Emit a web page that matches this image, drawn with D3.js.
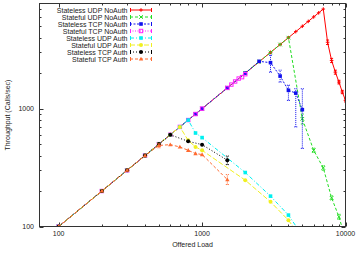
<!DOCTYPE html>
<html><head><meta charset="utf-8">
<script src="https://cdn.jsdelivr.net/npm/d3@7"></script>
<style>body{margin:0;background:#fff}svg{display:block}text{font-family:"Liberation Sans",Arial,sans-serif}</style>
</head><body>
<svg id="c" width="357" height="254"></svg>
<script>
// ---- data ----
const seriesNames = ["Stateless UDP NoAuth","Stateful UDP NoAuth","Stateless TCP NoAuth","Stateful TCP NoAuth","Stateless UDP Auth","Stateful UDP Auth","Stateless TCP Auth","Stateful TCP Auth"];
const seriesColors = ["#ff0000","#22dd22","#1010ee","#ff22ff","#00f0f0","#f0f020","#000000","#ff6a30"];
const seriesDash = ["none","3,2","2,1.5","1,1.5","4,2,1,2","5,2","1,2","3,2"];
const seriesMarker = ["plus","cross","fsquare","osquare","fsquare","fcircle","fcircle","ftri"];

const redLoad = [100,200,300,400,500,600,700,800,900,1000,1500,2000,2500,3000,3500,4000,4500,5000,5500,6000,6500,7000,7500,8000,8500,9000,9500,10000];
const redThr  = [100,200,300,400,500,600,700,800,900,1000,1500,2000,2500,3000,3500,4000,4500,5000,5500,6000,6500,7000,3660,2565,2040,1680,1383,1175];
const redLo   = [null,null,null,null,null,null,null,null,null,null,null,null,null,null,null,null,null,null,null,null,null,null,3500,2460,1960,1620,1340,1140];
const redHi   = [null,null,null,null,null,null,null,null,null,null,null,null,null,null,null,null,null,null,null,null,null,null,3820,2670,2120,1740,1430,1210];

const greenLoad = [100,200,300,400,500,600,700,800,900,1000,1500,2000,2500,3000,3500,4000,5000,6000,7000,8000,9000,10000];
const greenThr  = [100,200,300,400,500,600,700,800,900,1000,1500,2000,2500,3000,3500,4000,820,443,314,175,121,78];
const greenLo   = [null,null,null,null,null,null,null,null,null,null,null,null,null,null,null,null,740,425,300,168,115,null];
const greenHi   = [null,null,null,null,null,null,null,null,null,null,null,null,null,null,null,null,900,462,328,182,127,null];

const blueLoad = [100,200,300,400,500,600,700,800,900,1000,1500,2000,2500,3000,3500,4000,4500,5000];
const blueThr  = [100,200,300,400,500,600,700,800,900,1000,1500,2000,2520,2455,1890,1430,1355,980];
const blueLo   = [null,null,null,null,null,null,null,null,null,null,null,null,null,2040,1680,1175,700,460];
const blueHi   = [null,null,null,null,null,null,null,null,null,null,null,null,null,2840,2120,1580,1475,1475];

const magLoad = [100,200,300,400,500,600,700,800,900,1000,1500,1600,1700,1800,1900,2000];
const magThr  = [100,200,300,400,500,600,700,800,900,1000,1500,1600,1700,1800,1850,1960];

const cyanLoad = [100,200,300,400,500,600,700,800,900,1000,2000,3000,4000,5000];
const cyanThr  = [100,200,300,400,500,600,700,800,621,568,287,181,125,84];

const yelLoad = [100,200,300,400,500,600,700,800,900,1000,2000,3000,4000,5000];
const yelThr  = [100,200,300,400,500,600,700,538,473,443,247,162,113,78];

const blackLoad = [100,200,300,400,500,600,800,1000,1500];
const blackThr  = [100,200,300,400,500,600,528,495,365];
const blackLo   = [null,null,null,null,null,null,null,null,335];
const blackHi   = [null,null,null,null,null,null,null,null,396];

const orangeLoad = [100,200,300,400,500,600,700,800,900,1000,1500];
const orangeThr  = [100,200,300,400,487,495,473,443,416,408,250];
const orangeLo   = [null,null,null,null,465,null,null,null,null,null,227];
const orangeHi   = [null,null,null,null,505,null,null,null,null,null,276];

const xMajorTicks = [100,1000,10000];
const yMajorTicks = [100,1000];
const xLabel = "Offered Load";
const yLabel = "Throughput (Calls/sec)";

// ---- build ----
function mk(load,thr,lo,hi){return load.map((l,i)=>({x:l,y:thr[i],lo:lo?lo[i]:null,hi:hi?hi[i]:null}));}
const series = [
  mk(redLoad,redThr,redLo,redHi),
  mk(greenLoad,greenThr,greenLo,greenHi),
  mk(blueLoad,blueThr,blueLo,blueHi),
  mk(magLoad,magThr),
  mk(cyanLoad,cyanThr),
  mk(yelLoad,yelThr),
  mk(blackLoad,blackThr,blackLo,blackHi),
  mk(orangeLoad,orangeThr,orangeLo,orangeHi)
];

const L=39.5,R=345.5,T=3.5,B=226.5;
const x = d3.scaleLog().domain([73.5,10000]).range([L,R]);
const y = d3.scaleLog().domain([100,7800]).range([B,T]);
const svg = d3.select("#c");

svg.append("defs").append("clipPath").attr("id","clip")
  .append("rect").attr("x",L).attr("y",T).attr("width",R-L).attr("height",B-T);

// ticks
const axisCol="#333";
const tg = svg.append("g").attr("stroke",axisCol).attr("stroke-width",1);
const xTicks = x.ticks().filter(v=>v>=x.domain()[0]&&v<=10000&&v>=100);
xTicks.forEach(v=>{
  const major = xMajorTicks.includes(v);
  const len = major?4:2;
  const px = Math.round(x(v))+0.5;
  tg.append("line").attr("x1",px).attr("x2",px).attr("y1",B).attr("y2",B-len);
  tg.append("line").attr("x1",px).attr("x2",px).attr("y1",T).attr("y2",T+len);
});
const yTicks = y.ticks().filter(v=>v>=100&&v<=7800);
yTicks.forEach(v=>{
  const major = yMajorTicks.includes(v);
  const len = major?4:2;
  const py = Math.round(y(v))+0.5;
  tg.append("line").attr("y1",py).attr("y2",py).attr("x1",L).attr("x2",L+len);
  tg.append("line").attr("y1",py).attr("y2",py).attr("x1",R).attr("x2",R-len);
});

// tick labels
const lab = svg.append("g").attr("font-size",7).attr("fill","#222");
xMajorTicks.forEach(v=>{
  lab.append("text").attr("x",x(v)).attr("y",236).attr("text-anchor","middle").text(v);
});
yMajorTicks.forEach(v=>{
  lab.append("text").attr("x",34).attr("y",y(v)+2.5).attr("text-anchor","end").text(v);
});
lab.append("text").attr("x",(L+R)/2).attr("y",247).attr("text-anchor","middle").text(xLabel);
lab.append("text").attr("transform",`translate(10,${(T+B)/2}) rotate(-90)`).attr("text-anchor","middle").text(yLabel);

// marker drawing
function marker(g,type,cx,cy,col){
  const s=1.8;
  if(type==="plus"){
    g.append("path").attr("d",`M${cx-s},${cy}H${cx+s}M${cx},${cy-s}V${cy+s}`).attr("stroke",col).attr("stroke-width",1).attr("fill","none");
  } else if(type==="cross"){
    g.append("path").attr("d",`M${cx-s},${cy-s}L${cx+s},${cy+s}M${cx-s},${cy+s}L${cx+s},${cy-s}`).attr("stroke",col).attr("stroke-width",1).attr("fill","none");
  } else if(type==="fsquare"){
    g.append("rect").attr("x",cx-1.8).attr("y",cy-1.8).attr("width",3.6).attr("height",3.6).attr("fill",col);
  } else if(type==="osquare"){
    g.append("rect").attr("x",cx-1.7).attr("y",cy-1.7).attr("width",3.4).attr("height",3.4).attr("fill","none").attr("stroke",col).attr("stroke-width",1);
  } else if(type==="fcircle"){
    g.append("circle").attr("cx",cx).attr("cy",cy).attr("r",2).attr("fill",col);
  } else if(type==="ftri"){
    g.append("path").attr("d",`M${cx},${cy-2.2}L${cx+2.2},${cy+1.6}L${cx-2.2},${cy+1.6}Z`).attr("fill",col);
  }
}

// series
const plot = svg.append("g").attr("clip-path","url(#clip)");
const line = d3.line().x(d=>x(d.x)).y(d=>y(d.y));
series.forEach((data,i)=>{
  const col=seriesColors[i], dash=seriesDash[i];
  const g = plot.append("g");
  g.append("path").datum(data).attr("d",line).attr("fill","none").attr("stroke",col).attr("stroke-width",1)
    .attr("stroke-dasharray",dash==="none"?null:dash);
  data.filter(d=>d.lo!=null).forEach(d=>{
    const px=x(d.x);
    g.append("path").attr("d",`M${px},${y(d.lo)}V${y(d.hi)}M${px-1.5},${y(d.lo)}H${px+1.5}M${px-1.5},${y(d.hi)}H${px+1.5}`)
      .attr("stroke",col).attr("stroke-width",1).attr("fill","none").attr("stroke-dasharray",dash==="none"?null:"1,1");
  });
  data.forEach(d=>marker(g,seriesMarker[i],x(d.x),y(d.y),col));
});

// frame
svg.append("rect").attr("x",L).attr("y",T).attr("width",R-L).attr("height",B-T).attr("fill","none").attr("stroke",axisCol).attr("stroke-width",1);

// legend
const lg = svg.append("g");
seriesNames.forEach((n,i)=>{
  const yy = 10+7*i, col=seriesColors[i], dash=seriesDash[i];
  lg.append("text").attr("x",127.5).attr("y",yy+2.5).attr("text-anchor","end").attr("font-size",7).attr("fill","#222").text(n);
  lg.append("line").attr("x1",130).attr("x2",152).attr("y1",yy).attr("y2",yy).attr("stroke",col).attr("stroke-width",1)
    .attr("stroke-dasharray",dash==="none"?null:dash);
  lg.append("path").attr("d",`M130.5,${yy-2}V${yy+2}M151.5,${yy-2}V${yy+2}`).attr("stroke",col).attr("stroke-width",1);
  marker(lg,seriesMarker[i],141,yy,col);
});
</script>
</body></html>
